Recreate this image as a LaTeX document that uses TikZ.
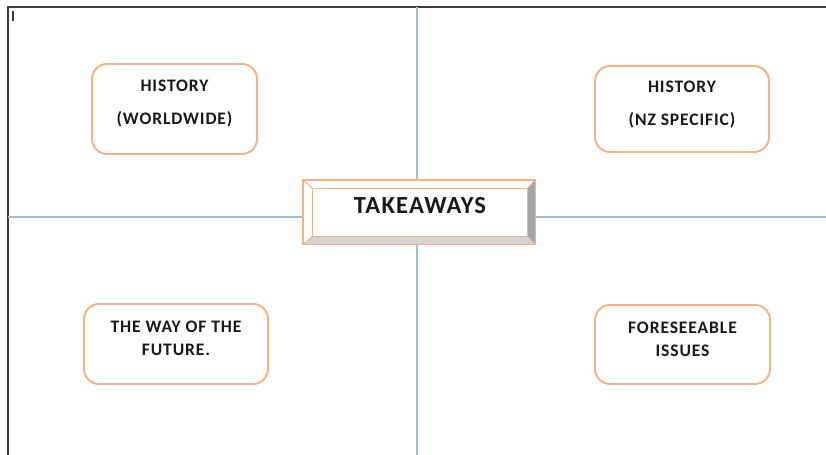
\documentclass[tikz,border=0pt]{standalone}
\usepackage{fontspec}
\setmainfont{Carlito}
\definecolor{boxOrange}{HTML}{F9B183}
\definecolor{crossBlue}{HTML}{A3BED9}
\definecolor{frameGray}{HTML}{3F3F3F}
\definecolor{bevelDark}{HTML}{A6A6A6}
\definecolor{bevelLight}{HTML}{D4D4D4}
\tikzset{
  topicbox/.style={draw=boxOrange,line width=1.1pt,rounded corners=0.3cm,fill=white,inner sep=0pt},
  topictext/.style={font=\fontsize{10}{12}\selectfont\bfseries\addfontfeatures{LetterSpace=5},align=center,text=black!90},
  crossline/.style={draw=crossBlue,line width=0.8pt},
  frameline/.style={draw=frameGray,line width=1.1pt}
}

\begin{document}
\begin{tikzpicture}[x=0.02cm,y=-0.02cm]
    \useasboundingbox (0,0) rectangle (826,455);

    % page frame and cross
    \draw[frameline] (8,455) -- (8,7) -- (826,7);
    \draw[draw=frameGray,line width=0.8pt] (13,11) -- (13,21);
    \draw[crossline] (417,7) -- (417,455);
    \draw[crossline] (8,217) -- (826,217);

    % four corner boxes
    \node[topicbox,minimum width=3.3cm,minimum height=1.8cm] (hw) at (174.5,109) {};
    \node[topicbox,minimum width=3.48cm,minimum height=1.72cm] (nz) at (682,109) {};
    \node[topicbox,minimum width=3.68cm,minimum height=1.6cm] (fut) at (176,344) {};
    \node[topicbox,minimum width=3.5cm,minimum height=1.58cm] (iss) at (682.5,344.5) {};

    \node[topictext] (hwText) at ([yshift=0.11cm]hw.center) {HISTORY\\[6.8pt](WORLDWIDE)};
    \node[topictext] (nzText) at ([yshift=0.08cm]nz.center) {HISTORY\\[6.8pt](NZ SPECIFIC)};
    \node[topictext] (futText) at ([yshift=0.11cm]fut.center) {THE WAY OF THE\\[1pt]FUTURE.};
    \node[topictext] (issText) at ([yshift=0.11cm]iss.center) {FORESEEABLE\\[1pt]ISSUES};

    % bevelled centre box
    \node[draw=boxOrange,fill=white,line width=0.8pt,inner sep=0pt,minimum width=4.64cm,minimum height=1.28cm] (takeOuter) at (419,212) {};
    \node[inner sep=0pt,minimum width=4.28cm,minimum height=0.94cm] (take) at (420,212.5) {};
    \fill[bevelDark] (takeOuter.north east) -- (take.north east) -- (take.south east) -- (takeOuter.south east) -- cycle;
    \fill[bevelLight] (takeOuter.south west) -- (take.south west) -- (take.south east) -- (takeOuter.south east) -- cycle;
    \draw[draw=boxOrange,line width=0.8pt] (takeOuter.south west) rectangle (takeOuter.north east);
    \draw[draw=boxOrange,line width=0.8pt] (take.south west) rectangle (take.north east);
    \draw[draw=boxOrange,line width=0.5pt] (takeOuter.north west) -- (take.north west);
    \draw[draw=boxOrange,line width=0.5pt] (takeOuter.north east) -- (take.north east);
    \draw[draw=boxOrange,line width=0.5pt] (takeOuter.south west) -- (take.south west);
    \draw[draw=boxOrange,line width=0.5pt] (takeOuter.south east) -- (take.south east);
    \node[font=\fontsize{14}{16}\selectfont\bfseries\addfontfeatures{LetterSpace=5},text=black!90] (takeText) at ([yshift=0.13cm]take.center) {TAKEAWAYS};
\end{tikzpicture}
\end{document}
